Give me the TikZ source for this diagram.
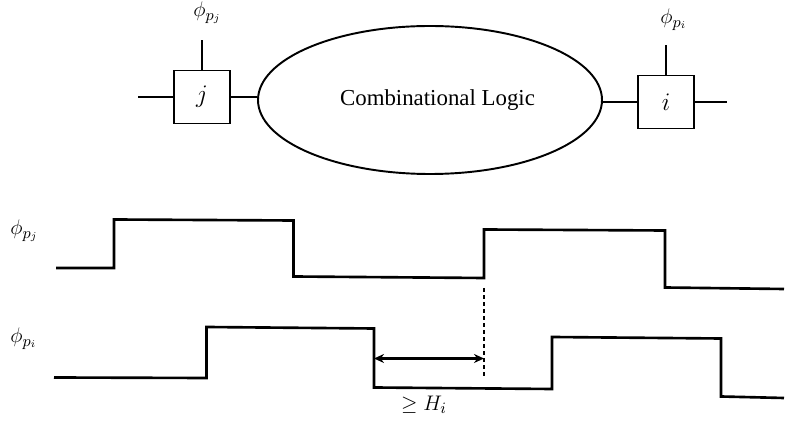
\documentclass[tikz,border=0pt]{standalone}
\usepackage{amsmath}
\usepackage{amssymb}
\usepackage{fontspec}
\setmainfont{Liberation Serif}
\usetikzlibrary{positioning, arrows.meta, calc, shapes.geometric}

\begin{document}
\begin{tikzpicture}[>=Stealth, font=\fontsize{13}{15}\selectfont,
    latch/.style={draw, line width=1.1pt, minimum width=1.12cm, minimum height=1.06cm, inner sep=0pt, font=\fontsize{15}{17}\selectfont},
    wire/.style={line width=1.1pt},
    wave/.style={line width=1.5pt},
    clk/.style={anchor=north west, inner sep=0pt}]
  \useasboundingbox (0,0) rectangle (15.78,8.46);

  % Latches and the logic between them
  \node[latch] (latchj) at (4.04,6.52) {$j$};
  \node[draw, ellipse, line width=1.1pt, minimum width=6.88cm, minimum height=2.96cm, inner sep=0pt] (logic) at (8.60,6.46) {\hspace*{0.3cm}Combinational Logic};
  \node[latch] (latchi) at (13.32,6.42) {$i$};

  % Data wires
  \coordinate (inj) at (2.76,6.52);
  \coordinate (outi) at (14.54,6.42);
  \draw[wire] (inj) -- (latchj.west);
  \draw[wire] (latchj.east) -- (latchj.east -| logic.west);
  \draw[wire] (latchi.west -| logic.east) -- (latchi.west);
  \draw[wire] (latchi.east) -- (outi);

  % Clock inputs
  \coordinate (clkj) at (4.04,7.66);
  \coordinate (clki) at (13.32,7.56);
  \draw[wire] (latchj.north) -- (clkj);
  \draw[wire] (latchi.north) -- (clki);
  \node[clk] (phij) at (3.86,8.42) {$\phi_{p_j}$};
  \node[clk] (phii) at (13.20,8.28) {$\phi_{p_i}$};

  % Clock waveforms
  \node[clk] (labj) at (0.20,4.06) {$\phi_{p_j}$};
  \node[clk] (labi) at (0.20,1.90) {$\phi_{p_i}$};
  \draw[wave] (1.12,3.10) -- (2.28,3.10) -- (2.28,4.07) -- (5.87,4.05) -- (5.87,2.93) -- (9.68,2.90)
    -- (9.68,3.87) -- (13.30,3.85) -- (13.30,2.71) -- (15.68,2.68);
  \draw[wave] (1.08,0.91) -- (4.13,0.90) -- (4.13,1.92) -- (7.48,1.89) -- (7.48,0.71) -- (11.04,0.68)
    -- (11.04,1.72) -- (14.42,1.69) -- (14.42,0.53) -- (15.68,0.50);

  % Hold time between the edges
  \coordinate (rtop) at (9.68,2.70);
  \coordinate (rbot) at (9.68,0.89);
  \coordinate (fall) at (7.48,1.29);
  \coordinate (edge) at (9.68,1.29);
  \draw[line width=1.1pt, dash pattern=on 2pt off 2pt] (rtop) -- (rbot);
  \draw[<->, line width=1.5pt, >={Stealth[length=2mm, width=1.8mm]}] (fall) -- (edge);
  \node (hold) at (8.48,0.36) {$\geq H_i$};
\end{tikzpicture}
\end{document}
